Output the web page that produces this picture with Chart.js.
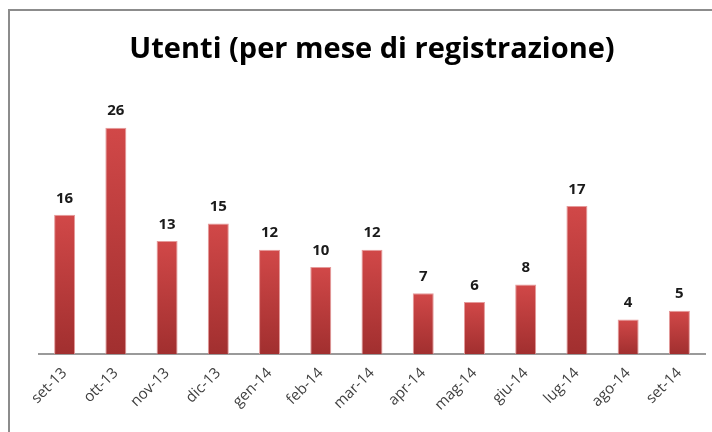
<!DOCTYPE html>
<html lang="it">
<head>
    <meta charset="UTF-8">
    <title>Utenti (per mese di registrazione)</title>
    <script src="https://cdn.jsdelivr.net/npm/chart.js"></script>
    <style>
        html, body { margin: 0; padding: 0; background: #ffffff; }
        #wrap { width: 712px; height: 432px; }
    </style>
</head>
<body>
    <div id="wrap"><canvas id="myChart" width="712" height="432"></canvas></div>

    <script>
        // DATI
        const mesi = ['set-13', 'ott-13', 'nov-13', 'dic-13', 'gen-14', 'feb-14', 'mar-14',
                      'apr-14', 'mag-14', 'giu-14', 'lug-14', 'ago-14', 'set-14'];
        const utenti = [16, 26, 13, 15, 12, 10, 12, 7, 6, 8, 17, 4, 5];
        const titolo = 'Utenti (per mese di registrazione)';

        // gradiente per ogni barra (chiaro in alto, scuro in basso)
        function coloreBarra(ctx) {
            const chart = ctx.chart;
            const y = chart.scales.y;
            if (!chart.chartArea || !y || ctx.raw === undefined) return '#c03c3c';
            const top = y.getPixelForValue(ctx.raw);
            const base = y.getPixelForValue(0);
            const g = chart.ctx.createLinearGradient(0, top, 0, base);
            g.addColorStop(0, '#d14848');
            g.addColorStop(1, '#a12f2f');
            return g;
        }

        // cornice e sfondo
        const cornice = {
            id: 'cornice',
            beforeDraw(chart) {
                const c = chart.ctx;
                c.save();
                c.fillStyle = '#ffffff';
                c.fillRect(0, 0, chart.width, chart.height);
                c.strokeStyle = '#8c8c8c';
                c.lineWidth = 2;
                c.beginPath();
                c.moveTo(9, chart.height + 5);
                c.lineTo(9, 10);
                c.lineTo(chart.width + 5, 10);
                c.stroke();
                c.restore();
            }
        };

        // etichette sopra le barre
        const etichette = {
            id: 'etichette',
            afterDatasetsDraw(chart) {
                const c = chart.ctx;
                const meta = chart.getDatasetMeta(0);
                c.save();
                c.font = 'bold 15px "Open Sans", sans-serif';
                c.fillStyle = '#1a1a1a';
                c.textAlign = 'center';
                c.textBaseline = 'bottom';
                meta.data.forEach((bar, i) => {
                    c.fillText(String(utenti[i]), bar.x, bar.y - 9);
                });
                c.restore();
            }
        };

        const config = {
            type: 'bar',
            data: {
                labels: mesi,
                datasets: [{
                    label: 'Utenti',
                    data: utenti,
                    backgroundColor: coloreBarra,
                    borderColor: '#e59a9a',
                    borderWidth: 1,
                    categoryPercentage: 1,
                    barPercentage: 0.41
                }]
            },
            plugins: [cornice, etichette],
            options: {
                responsive: false,
                animation: false,
                layout: {
                    padding: { left: 39, right: 7, top: 32, bottom: 8 }
                },
                plugins: {
                    legend: { display: false },
                    tooltip: { enabled: false },
                    title: {
                        display: true,
                        text: titolo,
                        color: '#000000',
                        font: { family: '"Open Sans", sans-serif', size: 29, weight: 'bold' },
                        padding: { top: 0, bottom: 26 }
                    }
                },
                scales: {
                    x: {
                        grid: { display: false, drawTicks: false },
                        border: { display: true, color: '#9a9a9a', width: 2 },
                        ticks: {
                            minRotation: 45,
                            maxRotation: 45,
                            autoSkip: false,
                            padding: 10,
                            color: '#404040',
                            font: { family: '"Open Sans", sans-serif', size: 15 }
                        }
                    },
                    y: {
                        display: false,
                        min: 0,
                        max: 30
                    }
                }
            }
        };

        const myChart = new Chart(document.getElementById('myChart'), config);
    </script>
</body>
</html>
